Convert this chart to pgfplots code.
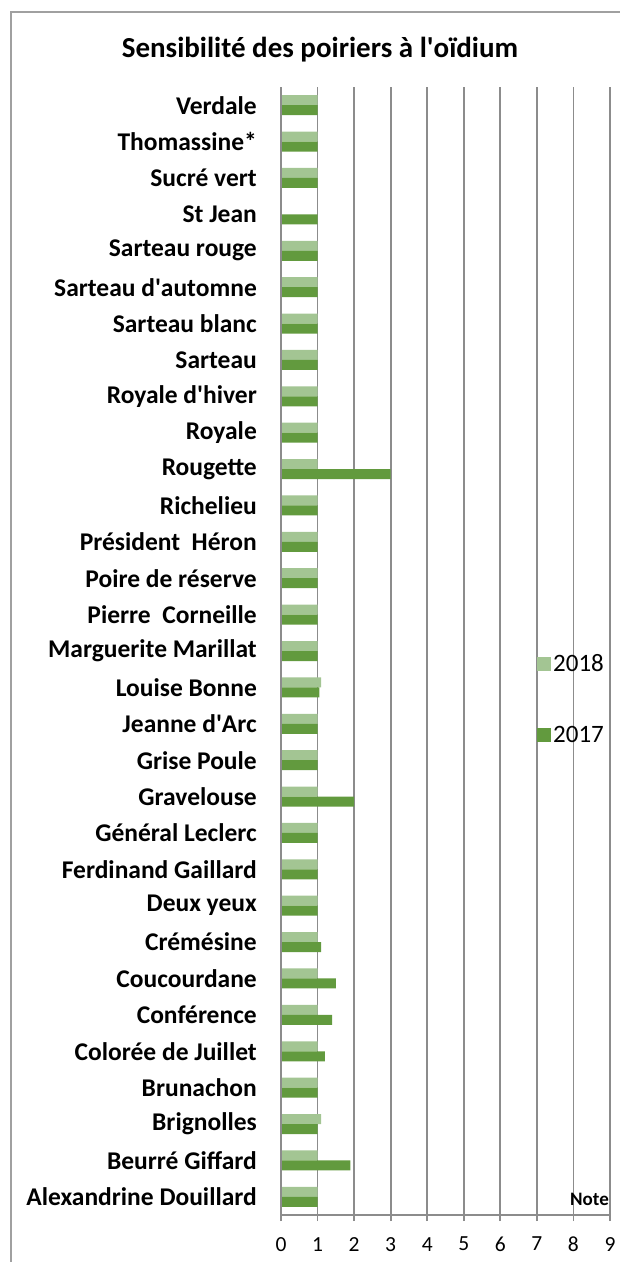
\documentclass[border=0pt]{standalone}
\usepackage{pgfplots}
\pgfplotsset{compat=1.18}
\usepackage{fontspec}
\setmainfont{Carlito}
\definecolor{lightg}{HTML}{A3C593}
\definecolor{darkg}{HTML}{629A3E}
\definecolor{gridg}{HTML}{8C8C8C}
\definecolor{bordg}{HTML}{A0A0A0}
\newcommand{\q}{\textquotesingle}
\begin{document}
\begin{tikzpicture}
\begin{axis}[
  scale only axis,
  width=329pt, height=1128pt,
  xbar, bar width=10pt,
  xmin=0, xmax=9,
  ymin=-0.5, ymax=30.5,
  xtick={0,...,9},
  ytick={0,...,30},
  minor ytick={-0.5,0.5,...,30.5},
  yticklabels={Alexandrine Douillard, Beurré Giffard, Brignolles, Brunachon, Colorée de Juillet, Conférence, Coucourdane, Crémésine, Deux yeux, Ferdinand Gaillard, Général Leclerc, Gravelouse, Grise Poule, Jeanne d\q Arc, Louise Bonne, Marguerite Marillat, Pierre~ Corneille, Poire de réserve, Président~ Héron, Richelieu, Rougette, Royale, Royale d\q hiver, Sarteau, Sarteau blanc, Sarteau d\q automne, Sarteau rouge, St Jean, Sucré vert, Thomassine*, Verdale},
  /pgf/number format/assume math mode=true,
  axis line style={draw=none},
  axis x line*=bottom,
  axis y line*=left,
  xmajorgrids, major grid style={gridg, line width=1.8pt},
  major tick length=6pt,
  y tick style={draw=none},
  minor y tick style={gridg, line width=1.8pt},
  minor tick length=10pt,
  tick align=outside,
  x tick style={gridg, line width=1.8pt},
  yticklabel style={font=\fontsize{25.5}{27}\selectfont\bfseries, inner sep=0pt, xshift=-18pt},
  xticklabel style={font=\fontsize{21.5}{24}\selectfont, inner sep=0pt, yshift=-16pt},
  title={Sensibilité des poiriers à l\q oïdium},
  title style={font=\fontsize{29}{32}\selectfont\bfseries, at={(axis description cs:0.1185,1.021)}, anchor=base},
  xlabel={Note},
  xlabel style={font=\fontsize{19}{21}\selectfont\bfseries, at={(axis description cs:0.997,0.008)}, anchor=south east, inner sep=0pt},
  legend style={draw=none, fill=none, at={(axis description cs:0.778,0.457)}, anchor=west, font=\fontsize{25}{28}\selectfont, row sep=49pt, inner sep=0pt, cells={anchor=west}},
  legend image code/.code={\fill[#1,draw=none] (0pt,-7pt) rectangle (14pt,7pt);},
  clip=false,
]
\addplot[fill=lightg, draw=none, bar shift=5pt] coordinates {
(1,0) (1,1) (1.1,2) (1,3) (1,4) (1,5) (1,6) (1,7) (1,8) (1,9) (1,10) (1,11) (1,12) (1,13) (1.1,14) (1,15) (1,16) (1,17) (1,18) (1,19) (1,20) (1,21) (1,22) (1,23) (1,24) (1,25) (1,26) (1,28) (1,29) (1,30)};
\addplot[fill=darkg, draw=none, bar shift=-5pt] coordinates {
(1,0) (1.9,1) (1,2) (1,3) (1.2,4) (1.4,5) (1.5,6) (1.1,7) (1,8) (1,9) (1,10) (2,11) (1,12) (1,13) (1.05,14) (1,15) (1,16) (1,17) (1,18) (1,19) (3,20) (1,21) (1,22) (1,23) (1,24) (1,25) (1,26) (1,27) (1,28) (1,29) (1,30)};
\legend{2018,2017}
\draw[gridg, line width=1.8pt] (axis cs:0,-0.5) -- (axis cs:0,30.5);
\draw[gridg, line width=1.8pt] (axis cs:0,-0.5) -- (axis cs:9,-0.5);
\end{axis}
\draw[bordg, line width=1.5pt] (-270pt,-47pt) -- (-270pt,1203pt) -- (339pt,1203pt);
\pgfresetboundingbox
\useasboundingbox (-281pt,-47pt) rectangle (339pt,1215pt);
\end{tikzpicture}
\end{document}
